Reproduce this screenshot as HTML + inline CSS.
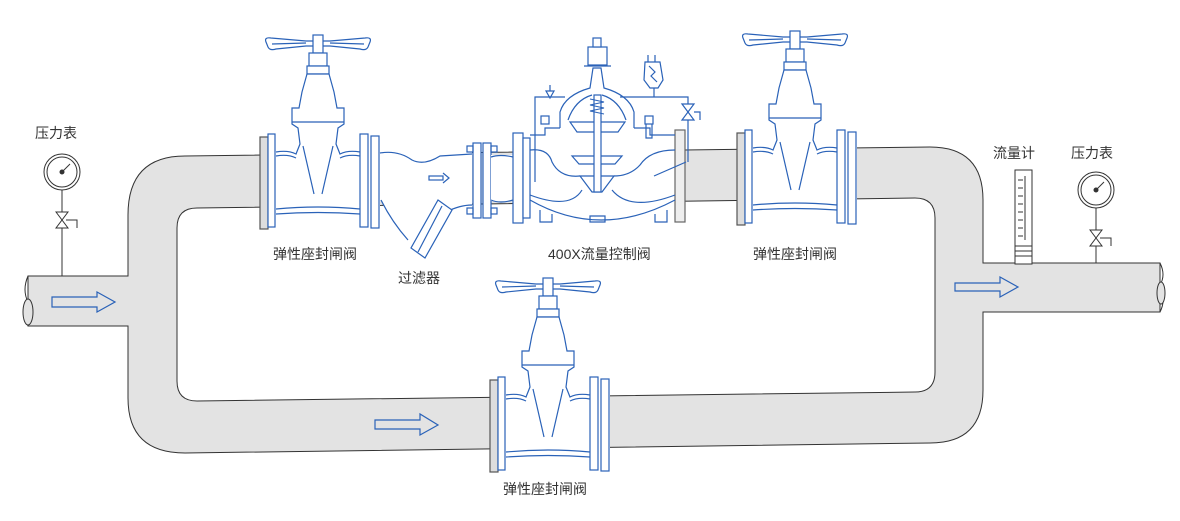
<!DOCTYPE html>
<html><head><meta charset="utf-8"><style>
html,body{margin:0;padding:0;background:#fff;}
svg{display:block;}
text{font-family:"Liberation Sans","Noto Sans CJK SC",sans-serif;font-size:14px;fill:#333;}
</style></head><body>
<svg width="1180" height="521" viewBox="0 0 1180 521" xmlns="http://www.w3.org/2000/svg">
<defs>
<g id="gv" fill="none" stroke="#2a62b8" stroke-width="1.2">
  <rect x="-58" y="90" width="120" height="96" fill="#fff" stroke="none"/>
  <path d="M-52,-2 Q-54,-7 -47,-6 L-12,-3 L12,-3 L47,-6 Q54,-7 52,-2 L50,3 Q48,7 42,5 L12,2 L-12,2 L-42,5 Q-48,7 -50,3 Z" fill="#fff"/>
  <path d="M-46,0 L-12,-1 M12,-1 L46,0"/>
  <rect x="-5" y="-9" width="10" height="18" fill="#fff"/>
  <rect x="-9" y="9" width="18" height="13" fill="#fff"/>
  <rect x="-11" y="22" width="22" height="8" fill="#fff"/>
  <path d="M-42,108 Q-30,106 -22,110 L-18,100 L-20,84 L-26,80 L-26,64 L-19,64 L-16,48 L-11,30 L11,30 L16,48 L19,64 L26,64 L26,80 L20,84 L18,100 L22,110 Q30,106 42,108" fill="#fff"/>
  <path d="M-26,78 L26,78 M-15,102 L-4,150 M15,102 L4,150 M-42,112 Q-30,110 -22,114 M42,112 Q30,110 22,114"/>
  <path d="M-42,165 Q0,161 42,165 M-42,170 Q0,167 42,170"/>
  <rect x="-58" y="93" width="8" height="92" fill="#ddd" stroke="#555"/>
  <rect x="-50" y="90" width="7" height="93" fill="#fff"/>
  <rect x="42" y="90" width="8" height="93" fill="#fff"/>
  <rect x="53" y="92" width="8" height="92" fill="#fff"/>
</g>
<g id="gauge" fill="none" stroke="#333" stroke-width="1">
  <circle cx="0" cy="0" r="18" fill="#fff"/>
  <circle cx="0" cy="0" r="15"/>
  <path d="M-1,1 L8,-8"/><circle cx="0" cy="0" r="2" fill="#333"/>
  <path d="M0,18 L0,40 M-6,40 L6,56 L-6,56 L6,40 Z M4,48 L15,48 L15,56"/>
</g>
</defs>

<!-- pipe loop -->
<path fill-rule="evenodd" fill="#e3e3e3" stroke="#333" stroke-width="1"
 d="M28,276 L128,276 L128,215 Q128,156 185,156 L930,147 Q983,147 983,200 L983,263 L1160,263 L1160,312 L983,312 L983,390 Q983,443 930,443 L185,453 Q128,453 128,398 L128,326 L28,326 Z
 M197,208 L915,198 Q935,198 935,218 L935,372 Q935,392 915,392 L197,401 Q177,401 177,381 L177,228 Q177,208 197,208 Z"/>
<path d="M28,276 Q22,290 28,302 M28,326 Q22,310 28,302" fill="none" stroke="#333"/>
<ellipse cx="28" cy="312" rx="5" ry="13" fill="#e3e3e3" stroke="#333"/>
<path d="M1160,263 Q1166,275 1160,285 M1160,312 Q1166,300 1160,292" fill="none" stroke="#333"/>
<ellipse cx="1161" cy="293" rx="4" ry="11" fill="#e3e3e3" stroke="#333"/>

<!-- gate valves -->
<use href="#gv" transform="translate(318,44)"/>
<use href="#gv" transform="translate(795,40)"/>
<use href="#gv" transform="translate(548,287)"/>

<!-- strainer + control valve -->
<g fill="none" stroke="#2a62b8" stroke-width="1.2">
  <path d="M380,150 L472,150 L472,206 L450,210 L430,250 L405,240 Q390,215 380,200 Z" fill="#fff" stroke="none"/>
  <path d="M380,153 Q398,150 412,160 Q424,166 440,156 L472,154"/>
  <path d="M381,200 Q392,222 408,240"/>
  <path d="M446,212 Q460,205 472,205"/>
  <path d="M438,200 L452,210 L425,258 L411,248 Z" fill="#fff"/>
  <path d="M442,206 L418,252"/>
  <rect x="429" y="176" width="14" height="4"/><path d="M443,173 L449,178 L443,183"/>
  <rect x="473" y="143" width="8" height="75" fill="#fff"/>
  <rect x="483" y="143" width="8" height="75" fill="#fff"/>
  <rect x="467" y="146" width="6" height="6"/><rect x="491" y="146" width="6" height="6"/>
  <rect x="467" y="208" width="6" height="6"/><rect x="491" y="208" width="6" height="6"/>
  <rect x="491" y="155" width="22" height="46" fill="#fff" stroke="none"/>
  <path d="M491,157 Q500,154 513,157 M491,200 Q500,204 513,200"/>
  <path d="M530,128 L675,128 L675,210 Q600,240 530,210 Z" fill="#fff" stroke="none"/>
  <rect x="513" y="133" width="10" height="90" fill="#fff"/>
  <rect x="523" y="138" width="7" height="80" fill="#fff"/>
  <rect x="675" y="130" width="10" height="92" fill="#eee" stroke="#666"/>
  <path d="M530,135 L545,135 L545,128 L560,128 M634,128 L650,128 L650,135 L675,135"/>
  <path d="M530,150 Q548,148 552,162 Q560,178 580,176 M675,150 Q650,150 640,165 Q630,176 614,176"/>
  <path d="M530,200 Q600,240 675,200 M530,195 Q570,210 582,190 M675,195 Q630,212 612,190"/>
  <path d="M540,210 L540,222 L552,222 L552,214 M655,214 L655,222 L667,222 L667,210 M590,222 L605,222 L605,216 L590,216 Z"/>
  <path d="M560,128 L560,112 Q565,95 590,88 L593,68 L601,68 L604,88 Q629,95 634,112 L634,128" fill="#fff"/>
  <path d="M568,120 Q575,100 592,95 M602,95 Q619,100 626,120"/>
  <path d="M570,122 L625,122 L618,132 L577,132 Z" fill="#fff"/>
  <path d="M572,156 L622,156 L615,164 L579,164 Z" fill="#fff"/>
  <path d="M580,176 L614,176 L602,192 L592,192 Z" fill="#fff"/>
  <rect x="594" y="95" width="7" height="97" fill="#fff"/>
  <path d="M590,99 L604,102 L590,105 L604,108 L590,111 L604,114" stroke-width="1"/>
  <rect x="588" y="47" width="19" height="18" fill="#fff"/>
  <rect x="593" y="38" width="8" height="9" fill="#fff"/>
  <path d="M584,66 L611,66"/>
  <rect x="541" y="116" width="8" height="8"/><rect x="645" y="116" width="8" height="8"/>
  <path d="M646,124 L646,138 L652,138 L652,124"/>
  <path d="M535,182 L535,97 L565,97 M620,97 L688,97 L688,162 M654,176 L686,162"/>
  <path d="M550,85 L550,91 M546,91 L554,91 L550,98 Z"/>
  <path d="M645,62 L660,62 L663,80 L658,88 L650,88 L644,80 Z" fill="#fff"/>
  <path d="M649,66 L655,72 L651,76 L657,82 M648,62 L648,55 M655,55 L655,62"/>
  <path d="M654,88 L654,97"/>
  <path d="M682,104 L694,120 L682,120 L694,104 Z" fill="#fff"/>
  <path d="M694,112 L700,112 L700,120"/>
</g>

<!-- gauges & flowmeter -->
<use href="#gauge" transform="translate(62,172)"/>
<path d="M62,228 L62,276" stroke="#333" stroke-width="1"/>
<use href="#gauge" transform="translate(1096,190)"/>
<path d="M1096,246 L1096,263" stroke="#333" stroke-width="1"/>
<g fill="#fff" stroke="#333" stroke-width="1">
  <rect x="1015" y="170" width="17" height="94"/>
  <path d="M1025,176 L1025,240 M1018,180 L1023,180 M1018,188 L1023,188 M1018,196 L1023,196 M1018,204 L1023,204 M1018,212 L1023,212 M1018,220 L1023,220 M1018,228 L1023,228 M1018,236 L1023,236 M1015,246 L1032,246 M1015,251 L1032,251 M1015,256 L1032,256" fill="none"/>
</g>

<!-- arrows -->
<g fill="none" stroke="#2a62b8" stroke-width="1.2">
  <path d="M52,297 L97,297 L97,292 L115,302 L97,312 L97,307 L52,307 Z"/>
  <path d="M955,283 L1000,283 L1000,277 L1018,287 L1000,297 L1000,291 L955,291 Z"/>
  <path d="M375,420 L420,420 L420,414 L438,425 L420,435 L420,429 L375,429 Z"/>
</g>

<!-- labels -->
<text x="35" y="138">压力表</text>
<text x="1071" y="158">压力表</text>
<text x="993" y="158">流量计</text>
<text x="273" y="259">弹性座封闸阀</text>
<text x="753" y="259">弹性座封闸阀</text>
<text x="503" y="494">弹性座封闸阀</text>
<text x="398" y="283">过滤器</text>
<text x="548" y="259">400X流量控制阀</text>
</svg>
</body></html>
